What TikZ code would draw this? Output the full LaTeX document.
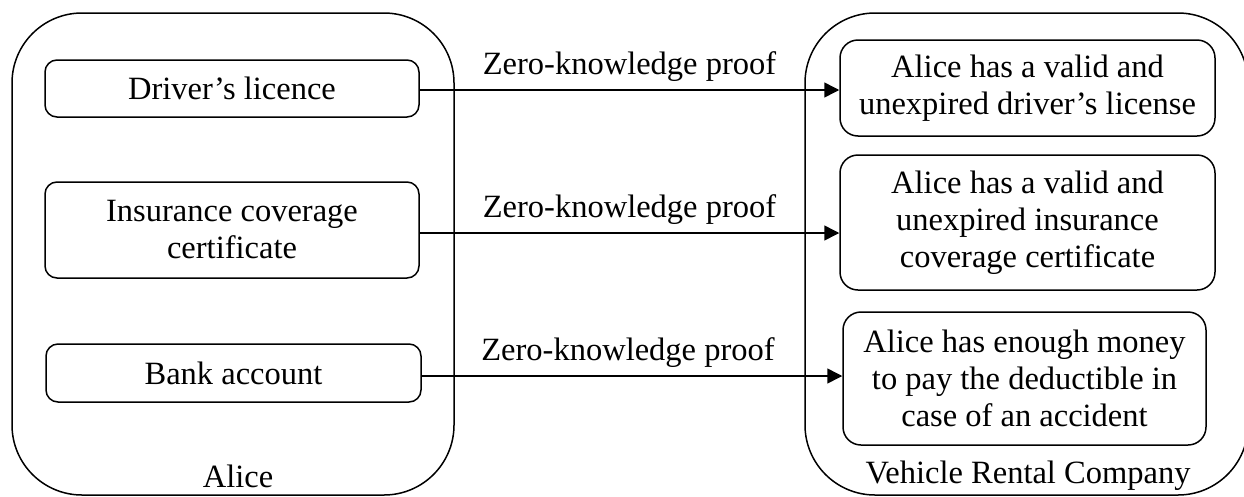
\documentclass[tikz,border=0pt]{standalone}
\usepackage{fontspec}
\setmainfont{Liberation Serif}
\usetikzlibrary{arrows.meta}
\begin{document}
\begin{tikzpicture}[x=1pt,y=-1pt,
  every node/.style={font=\fontsize{32.5}{37}\selectfont, inner sep=0pt},
  party/.style={draw, line width=1.5pt, rounded corners=70pt},
  item/.style={draw, line width=1.5pt, rounded corners=12pt, align=center},
  claim/.style={draw, line width=1.5pt, rounded corners=18pt, align=center},
  proof/.style={line width=1.5pt, -{Triangle[length=15pt,width=15pt]}},
  plabel/.style={anchor=base}
]
\useasboundingbox (0,0) rectangle (1244,496);
\clip (0,0) rectangle (1244,496);
% parties
\node[party, minimum width=442pt, minimum height=482pt] (alice) at (233,254) {};
\node[party, minimum width=443pt, minimum height=482pt] (vrc) at (1026.5,254) {};
\node[plabel] (alicelbl) at (238,487) {Alice};
\node[plabel] (vrclbl) at (1028,483) {Vehicle Rental Company};
% Alice's items
\node[item, minimum width=374pt, minimum height=57pt] (drv) at (232,88.5) {Driver’s licence};
\node[item, minimum width=374pt, minimum height=96pt] (ins) at (232,230) {Insurance coverage\\certificate};
\node[item, minimum width=375pt, minimum height=58pt] (bank) at (233.5,373) {Bank account};
% claims
\node[claim, minimum width=375pt, minimum height=96pt] (c1) at (1027.5,88) {Alice has a valid and\\unexpired driver’s license};
\node[claim, minimum width=375pt, minimum height=135pt] (c2) at (1027.5,222.5) {Alice has a valid and\\unexpired insurance\\coverage certificate};
\node[claim, minimum width=363pt, minimum height=133pt] (c3) at (1024.5,378.5) {Alice has enough money\\to pay the deductible in\\case of an accident};
% proofs
\coordinate (s1) at ([yshift=-1.5pt]drv.east);
\coordinate (s2) at ([yshift=-3pt]ins.east);
\coordinate (s3) at ([yshift=-3pt]bank.east);
\draw[proof] (s1) -- (s1 -| c1.west) node[midway, plabel, yshift=16pt] (p1) {Zero-knowledge proof};
\draw[proof] (s2) -- (s2 -| c2.west) node[midway, plabel, yshift=16pt] (p2) {Zero-knowledge proof};
\draw[proof] (s3) -- (s3 -| c3.west) node[midway, plabel, yshift=16pt, xshift=-4pt] (p3) {Zero-knowledge proof};
\end{tikzpicture}
\end{document}
